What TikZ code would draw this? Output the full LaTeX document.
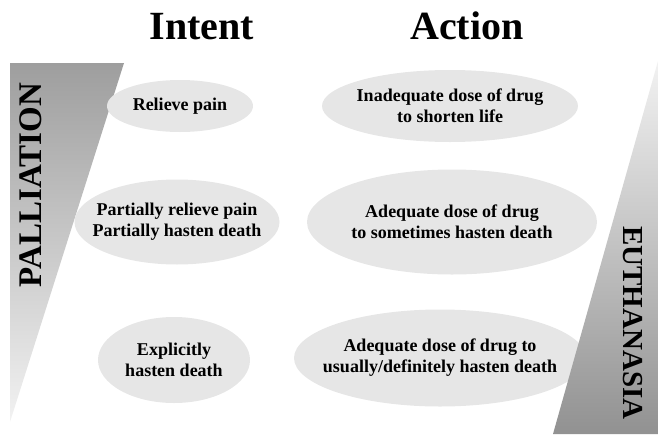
\documentclass[tikz,border=0pt]{standalone}
\usepackage{fontspec}
\setmainfont{Liberation Serif}
\usepackage{xcolor}
\definecolor{wedgedark}{RGB}{158,158,158}
\definecolor{wedgelight}{RGB}{242,242,242}
\definecolor{ovalfill}{RGB}{230,230,230}
\usepackage{tikz}
\usetikzlibrary{positioning,shapes.geometric}
\tikzset{
  oval/.style    ={ellipse,fill=ovalfill,draw=none,inner xsep=-50pt,inner ysep=-30pt,
                   align=center,font=\bfseries\fontsize{18}{21}\selectfont},
  heading/.style ={font=\bfseries\fontsize{40}{44}\selectfont,anchor=base},
  sidelabel/.style={font=\bfseries\fontsize{33}{36}\selectfont},
}

\begin{document}
\begin{tikzpicture}[x=1pt,y=-1pt]
  \useasboundingbox (0,0) rectangle (658,434);
  % left wedge
  \shade[top color=wedgedark,bottom color=wedgelight] (10,63) -- (124,63) -- (10,422) -- cycle;
  \node[sidelabel,rotate=90] (pall) at (31,185) {PALLIATION};
  % headings
  \node[heading] (intent) at (202,39) {Intent};
  \node[heading] (action) at (467,39) {Action};
  % intent column
  \node[oval,minimum width=146pt,minimum height=52pt] (relieve) at (180,106) {Relieve pain};
  \node[oval,minimum width=205pt,minimum height=85pt] (partial) at (177,222) {Partially relieve pain\\Partially hasten death};
  \node[oval,minimum width=152pt,minimum height=86pt] (explicit) at (174,360) {Explicitly\\hasten death};
  % action column
  \node[oval,minimum width=256pt,minimum height=72pt] (inadequate) at (450,106) {Inadequate dose of drug\\to shorten life};
  \node[oval,minimum width=290pt,minimum height=105pt] (sometimes) at (452,222) {Adequate dose of drug\\to sometimes hasten death};
  \node[oval,minimum width=292pt,minimum height=97pt] (usually) at (440,358) {Adequate dose of drug to\\usually/definitely hasten death};
  % right wedge
  \shade[top color=wedgelight,bottom color=wedgedark!92!black] (658,61) -- (658,434) -- (553,434) -- cycle;
  \node[sidelabel,rotate=-90,font=\bfseries\fontsize{29}{32}\selectfont] (euth) at (633,323) {EUTHANASIA};
\end{tikzpicture}
\end{document}
